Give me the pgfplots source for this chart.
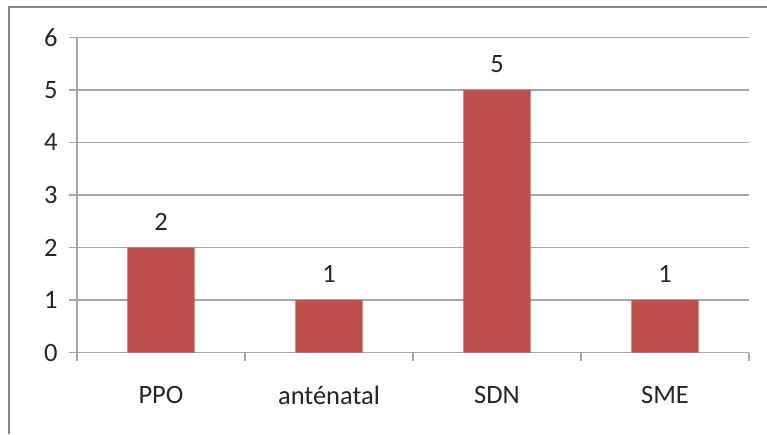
\documentclass[border=0pt]{standalone}
\usepackage{pgfplots}
\pgfplotsset{compat=1.18}
\usepackage{fontspec}
\setmainfont{Carlito}
\definecolor{barred}{HTML}{C0504D}
\definecolor{gridg}{HTML}{A6A6A6}
\definecolor{frameg}{HTML}{878787}
\definecolor{txt}{HTML}{262626}
\begin{document}
\begin{tikzpicture}[x=1pt,y=1pt]
\useasboundingbox (0,0) rectangle (767,434);
\fill[white] (0,0) rectangle (767,434);
\draw[frameg, line width=2pt] (9,0) -- (9,427) -- (767,427);
\begin{axis}[
  at={(77pt,81.3pt)}, anchor=south west, scale only axis,
  width=672pt, height=315.4pt,
  xmin=0, xmax=4, ymin=0, ymax=6,
  axis x line=bottom, axis y line=left,
  axis line style={gridg, line width=1.3pt, -},
  ymajorgrids, grid style={gridg, line width=1.3pt},
  ytick={0,1,2,3,4,5,6},
  xtick={0.5,1.5,2.5,3.5},
  xticklabels={PPO,anténatal,SDN,SME},
  minor xtick={0,1,2,3,4},
  tick align=outside,
  major tick length=8pt, minor tick length=8pt,
  every major x tick/.append style={draw=none},
  tick style={gridg, line width=1.3pt},
  every minor tick/.append style={gridg, line width=1.3pt},
  tick label style={font=\fontsize{26.5}{30}\selectfont, text=txt},
  yticklabel style={xshift=-8pt},
  xticklabel style={yshift=-22pt},
  /pgf/number format/assume math mode=true,
  ybar, bar width=0.4,
  nodes near coords,
  every node near coord/.append style={font=\fontsize{26.5}{30}\selectfont, text=txt, yshift=14pt},
  clip=false,
]
\addplot[fill=barred, draw=none] coordinates {(0.5,2) (1.5,1) (2.5,5) (3.5,1)};
\end{axis}
\end{tikzpicture}
\end{document}
